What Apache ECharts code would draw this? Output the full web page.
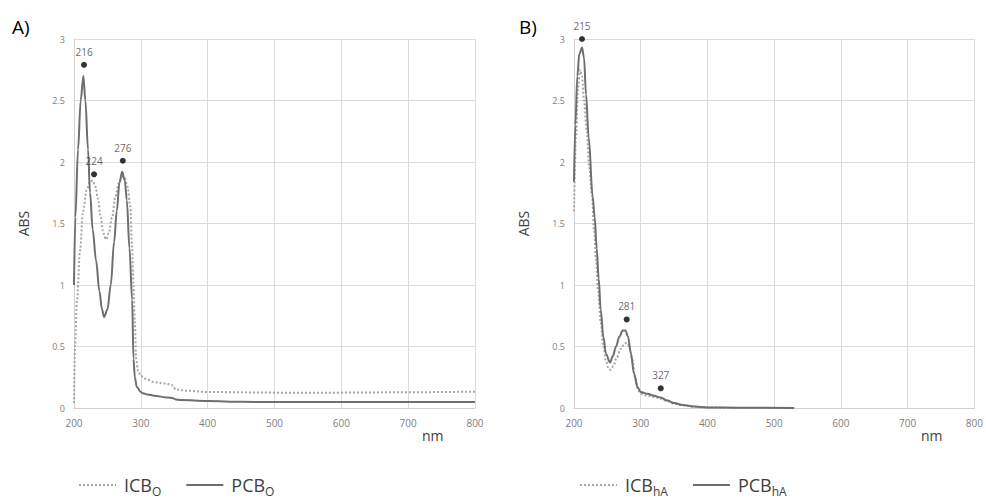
<!DOCTYPE html>
<html>
<head>
<meta charset="utf-8">
<script src="https://cdn.jsdelivr.net/npm/echarts@6/dist/echarts.min.js"></script>
<style>html,body{margin:0;padding:0;background:#fff}#c{width:986px;height:500px}</style>
</head>
<body>
<div id="c"></div>
<script>
// ---- Data ----
const xTicks = [200, 300, 400, 500, 600, 700, 800];
const yTicks = [0, 0.5, 1, 1.5, 2, 2.5, 3];

// Panel A
const icbO_nm  = [200, 201.5, 204.5, 209, 213.5, 219, 224, 228, 232, 236, 240, 244, 248, 252, 257, 262, 267, 272, 276, 280, 284, 287, 289, 291, 293, 296, 300, 310, 320, 335, 346, 349, 352, 370, 400, 500, 600, 700, 800];
const icbO_abs = [0.04, 0.5, 0.88, 1.28, 1.6, 1.77, 1.84, 1.85, 1.8, 1.7, 1.55, 1.42, 1.37, 1.42, 1.55, 1.72, 1.83, 1.88, 1.87, 1.8, 1.65, 1.3, 1.0, 0.7, 0.4, 0.3, 0.26, 0.23, 0.21, 0.2, 0.19, 0.17, 0.15, 0.14, 0.13, 0.125, 0.125, 0.128, 0.133];
const pcbO_nm  = [200, 202, 206, 210, 214, 217, 221, 224, 228, 233, 238, 242, 245, 250, 255, 260, 264, 268, 272, 276, 279, 283, 287, 289, 291, 294, 300, 303, 310, 320, 340, 348, 352, 360, 400, 450, 500, 600, 700, 800];
const pcbO_abs = [1.0, 1.55, 2.1, 2.5, 2.7, 2.5, 2.1, 1.75, 1.45, 1.2, 0.95, 0.8, 0.74, 0.8, 1.0, 1.35, 1.6, 1.83, 1.92, 1.85, 1.69, 1.3, 0.88, 0.4, 0.25, 0.17, 0.13, 0.12, 0.11, 0.1, 0.085, 0.08, 0.07, 0.065, 0.057, 0.05, 0.049, 0.048, 0.048, 0.048];
const mkA_nm  = [215, 230, 273];
const mkA_abs = [2.79, 1.9, 2.01];
const mkA_lbl = ['216', '224', '276'];

// Panel B
const icbH_nm  = [200, 203, 206, 209, 212, 215, 219, 223, 227, 230, 233, 236, 240, 244, 248, 252, 255, 259, 264, 270, 275, 279, 283, 287, 292, 297, 300, 310, 320, 330, 340, 350, 363, 380, 400, 450, 530];
const icbH_abs = [1.6, 2.2, 2.6, 2.75, 2.7, 2.5, 2.26, 1.95, 1.72, 1.45, 1.2, 0.95, 0.7, 0.5, 0.38, 0.32, 0.31, 0.34, 0.41, 0.48, 0.52, 0.53, 0.5, 0.4, 0.24, 0.14, 0.115, 0.1, 0.09, 0.075, 0.055, 0.035, 0.022, 0.01, 0.004, 0.001, 0];
const pcbH_nm  = [200, 202, 205, 208, 212, 215, 218, 222, 228, 231, 234, 237, 240, 244, 248, 254, 258, 263, 268, 273, 277, 281, 285, 290, 295, 300, 310, 320, 330, 340, 350, 363, 380, 400, 450, 530];
const pcbH_abs = [1.84, 2.3, 2.7, 2.88, 2.93, 2.85, 2.55, 2.2, 1.72, 1.55, 1.3, 1.05, 0.8, 0.58, 0.44, 0.37, 0.42, 0.5, 0.58, 0.63, 0.63, 0.58, 0.45, 0.28, 0.17, 0.13, 0.115, 0.1, 0.085, 0.06, 0.04, 0.025, 0.012, 0.005, 0.002, 0];
const mkB_nm  = [212, 279, 330];
const mkB_abs = [3.0, 0.72, 0.16];
const mkB_lbl = ['215', '281', '327'];

// ---- Build ----
const zip = (a, b) => a.map((v, i) => [v, b[i]]);
const FONT = 'Open Sans';
const DOT_COLOR = '#a6a6a6';
const SOLID_COLOR = '#6e6e6e';

function xAxis(gi) {
  return {
    gridIndex: gi, type: 'value', min: xTicks[0], max: xTicks[xTicks.length - 1], interval: 100,
    axisLine: { show: true, lineStyle: { color: '#d0d0d0', width: 1 } },
    axisTick: { show: false },
    axisLabel: { color: '#808080', fontSize: 10, fontFamily: FONT, margin: 10 },
    splitLine: { show: true, lineStyle: { color: '#dcdcdc', width: 1 } }
  };
}
function yAxis(gi) {
  return {
    gridIndex: gi, type: 'value', min: yTicks[0], max: yTicks[yTicks.length - 1], interval: 0.5,
    name: 'ABS', nameLocation: 'middle', nameGap: 44,
    nameTextStyle: { color: '#404040', fontSize: 14, fontFamily: FONT },
    axisLine: { show: true, lineStyle: { color: '#d0d0d0', width: 1 } },
    axisTick: { show: false },
    axisLabel: { color: '#808080', fontSize: 9, fontFamily: FONT, margin: 9 },
    splitLine: { show: true, lineStyle: { color: '#dcdcdc', width: 1 } }
  };
}
function lineSeries(name, nm, abs, gi, dotted) {
  return {
    name: name, type: 'line', xAxisIndex: gi, yAxisIndex: gi,
    data: zip(nm, abs), showSymbol: false, symbol: 'none',
    smooth: 0.35, smoothMonotone: 'x',
    lineStyle: dotted ? { color: DOT_COLOR, width: 2, type: [2, 2] } : { color: SOLID_COLOR, width: 2 },
    itemStyle: { color: dotted ? DOT_COLOR : SOLID_COLOR },
    z: dotted ? 2 : 3
  };
}
function markerSeries(nm, abs, lbl, gi) {
  return {
    type: 'scatter', xAxisIndex: gi, yAxisIndex: gi, clip: false,
    data: nm.map((v, i) => ({ value: [v, abs[i]], label: { formatter: lbl[i] } })),
    symbol: 'circle', symbolSize: 6, itemStyle: { color: '#000' },
    label: { show: true, position: 'top', distance: 5, color: '#404040', fontSize: 10, fontFamily: FONT },
    z: 5, silent: true
  };
}
const rich = {
  a: { fontSize: 18, fontFamily: FONT, color: '#404040' },
  b: { fontSize: 12, fontFamily: FONT, color: '#404040', padding: [12, 0, 0, 0] }
};
function legend(names, left, sub) {
  return {
    data: names, left: left, top: 471, itemWidth: 37, itemHeight: 10, itemGap: 24,
    itemStyle: { opacity: 0 },
    textStyle: { rich: rich, padding: [0, 0, 0, 3] },
    formatter: n => '{a|' + n.split('_')[0] + '}{b|' + sub + '}'
  };
}

const chart = echarts.init(document.getElementById('c'), null, { renderer: 'svg' });
chart.setOption({
  animation: false,
  backgroundColor: '#ffffff',
  grid: [
    { left: 74, top: 39, width: 401, height: 369 },
    { left: 574, top: 39, width: 401, height: 369 }
  ],
  xAxis: [xAxis(0), xAxis(1)],
  yAxis: [yAxis(0), yAxis(1)],
  legend: [
    legend(['ICB_O', 'PCB_O'], 73, 'O'),
    legend(['ICB_hA', 'PCB_hA'], 574, 'hA')
  ],
  graphic: [
    { type: 'text', left: 12, top: 17, style: { text: 'A)', fontSize: 19, fontFamily: FONT, fill: '#000' } },
    { type: 'text', left: 519, top: 17, style: { text: 'B)', fontSize: 19, fontFamily: FONT, fill: '#000' } },
    { type: 'text', left: 422, top: 428, style: { text: 'nm', fontSize: 14, fontFamily: FONT, fill: '#404040' } },
    { type: 'text', left: 921, top: 428, style: { text: 'nm', fontSize: 14, fontFamily: FONT, fill: '#404040' } }
  ],
  series: [
    lineSeries('ICB_O', icbO_nm, icbO_abs, 0, true),
    lineSeries('PCB_O', pcbO_nm, pcbO_abs, 0, false),
    markerSeries(mkA_nm, mkA_abs, mkA_lbl, 0),
    lineSeries('ICB_hA', icbH_nm, icbH_abs, 1, true),
    lineSeries('PCB_hA', pcbH_nm, pcbH_abs, 1, false),
    markerSeries(mkB_nm, mkB_abs, mkB_lbl, 1)
  ]
});
</script>
</body>
</html>
